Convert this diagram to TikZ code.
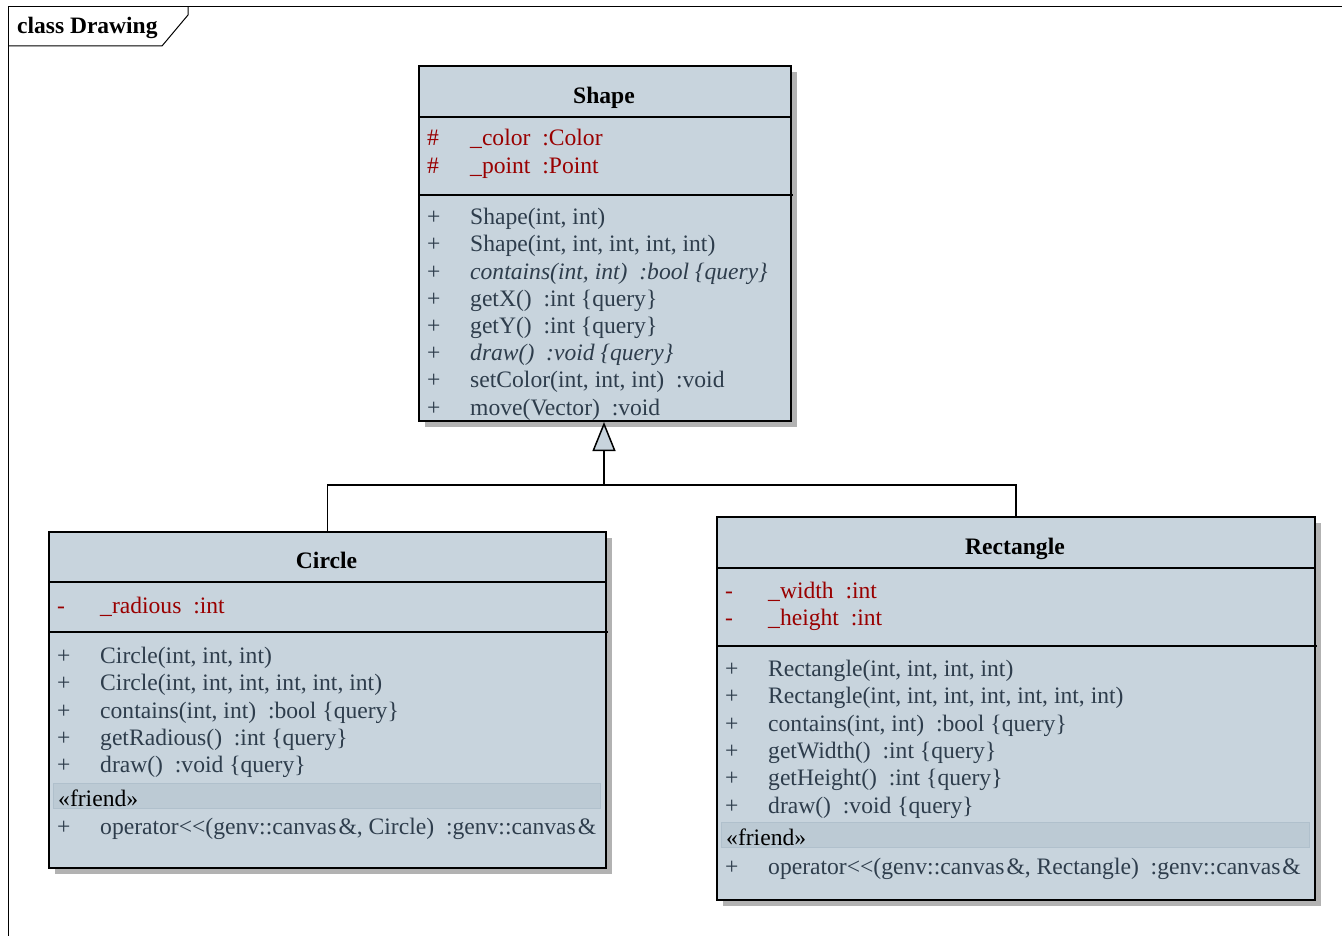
\documentclass[tikz,border=0pt]{standalone}
\usepackage{fontspec}
\setmainfont{Liberation Serif}
\usepackage{tikz}
\usetikzlibrary{positioning, arrows.meta, shadows}
\definecolor{classfill}{HTML}{C8D4DD}
\definecolor{friendfill}{HTML}{BCCAD4}
\definecolor{friendline}{HTML}{B0C0CC}
\definecolor{optext}{HTML}{2E3D4C}
\definecolor{attrtext}{HTML}{990000}
\newcommand{\tgap}{\hspace{0.5em}}
\newcommand{\amp}{\kern2pt\&}
\tikzset{classbox/.style={draw, line width=2pt, fill=classfill, anchor=north west, inner sep=0pt,
           drop shadow={shadow xshift=6pt, shadow yshift=-6pt, fill=black!30, opacity=1}},
         sepline/.style={line width=1.5pt},
         classname/.style={font=\fontsize{23.6}{27}\selectfont\bfseries, anchor=base, inner sep=0pt},
         member/.style={font=\fontsize{23.6}{27}\selectfont, text=optext, anchor=base west, inner sep=0pt},
         attr/.style={member, text=attrtext},
         friendband/.style={fill=friendfill, draw=friendline, line width=1pt, anchor=north west, inner sep=0pt},
         frame/.style={line width=1pt},
         inherit/.style={-{Triangle[length=29pt, width=23pt, fill=classfill]}, line width=1.5pt},
         assoc/.style={line width=1.5pt},
         }

\begin{document}
\begin{tikzpicture}[x=1pt, y=-1pt]
    \useasboundingbox (0,0) rectangle (1342,936);

    % frame
    \draw[frame] (8,936) -- (8,7) -- (1342,7);
    \draw[frame] (8,46) -- (162,46) -- (188,15) -- (188,7);
    \node[font=\fontsize{23.5}{28}\selectfont\bfseries, anchor=base west, inner sep=0pt] (drawing) at (17,34) {class Drawing};

    % Shape
    \node[classbox, minimum width=372pt, minimum height=355pt] (shape) at (418,65) {};
    \draw[sepline] (418,117) -- (790,117);
    \draw[sepline] (418,195) -- (793,195);
    \node[classname] (shapename) at (604,104) {Shape};
    \node[attr] (shapevisa1) at (427,146) {\#};
    \node[attr] (shapeattr1) at (470,146) {\_color\tgap:Color};
    \node[attr] (shapevisa2) at (427,173.5) {\#};
    \node[attr] (shapeattr2) at (470,173.5) {\_point\tgap:Point};
    \foreach \txt [count=\i] in {{Shape(int, int)}, {Shape(int, int, int, int, int)},
            {\textit{contains(int, int)\tgap:bool \{query\}}}, {getX()\tgap:int \{query\}},
            {getY()\tgap:int \{query\}}, {\textit{draw()\tgap:void \{query\}}},
            {setColor(int, int, int)\tgap:void}, {move(Vector)\tgap:void}} {
        \node[member] (shapevis\i) at (427, 197.5+27.2*\i) {+};
        \node[member] (shapeop\i) at (470, 197.5+27.2*\i) {\txt};
    }

    % Circle
    \node[classbox, minimum width=557pt, minimum height=336pt] (circle) at (48,531) {};
    \draw[sepline] (48,582) -- (605,582);
    \draw[sepline] (48,632) -- (608,632);
    \node[classname] (circlename) at (326.5,568.5) {Circle};
    \node[attr] (circlevisa1) at (57,613.5) {-};
    \node[attr] (circleattr1) at (100,613.5) {\_radious\tgap:int};
    \foreach \txt [count=\i] in {{Circle(int, int, int)}, {Circle(int, int, int, int, int, int)},
            {contains(int, int)\tgap:bool \{query\}}, {getRadious()\tgap:int \{query\}},
            {draw()\tgap:void \{query\}}} {
        \node[member] (circlevis\i) at (57, 636.2+27.3*\i) {+};
        \node[member] (circleop\i) at (100, 636.2+27.3*\i) {\txt};
    }
    \node[friendband, minimum width=547pt, minimum height=25pt] (circlefriend) at (53,783) {};
    \node[member, text=black] (circlefriendtxt) at (58,806) {«friend»};
    \node[member] (circlevisf) at (57,834.5) {+};
    \node[member] (circleopf) at (100,834.5) {operator<{}<(genv::canvas\amp, Circle)\tgap:genv::canvas\amp};

    % Rectangle
    \node[classbox, minimum width=598pt, minimum height=383pt] (rect) at (716,516) {};
    \draw[sepline] (716,568) -- (1314,568);
    \draw[sepline] (716,646) -- (1317,646);
    \node[classname] (rectname) at (1015,554.5) {Rectangle};
    \node[attr] (rectvisa1) at (725,598.5) {-};
    \node[attr] (rectattr1) at (768,598.5) {\_width\tgap:int};
    \node[attr] (rectvisa2) at (725,625.5) {-};
    \node[attr] (rectattr2) at (768,625.5) {\_height\tgap:int};
    \foreach \txt [count=\i] in {{Rectangle(int, int, int, int)}, {Rectangle(int, int, int, int, int, int, int)},
            {contains(int, int)\tgap:bool \{query\}}, {getWidth()\tgap:int \{query\}},
            {getHeight()\tgap:int \{query\}}, {draw()\tgap:void \{query\}}} {
        \node[member] (rectvis\i) at (725, 649.2+27.3*\i) {+};
        \node[member] (rectop\i) at (768, 649.2+27.3*\i) {\txt};
    }
    \node[friendband, minimum width=588pt, minimum height=25pt] (rectfriend) at (721,822) {};
    \node[member, text=black] (rectfriendtxt) at (726,845) {«friend»};
    \node[member] (rectvisf) at (725,874.5) {+};
    \node[member] (rectopf) at (768,874.5) {operator<{}<(genv::canvas\amp, Rectangle)\tgap:genv::canvas\amp};

    % generalization
    \coordinate (junction) at (604,485);
    \draw[assoc] (circle.north) |- (junction) -| (rect.north);
    \draw[inherit] (junction) -- (junction |- shape.south);
\end{tikzpicture}
\end{document}
